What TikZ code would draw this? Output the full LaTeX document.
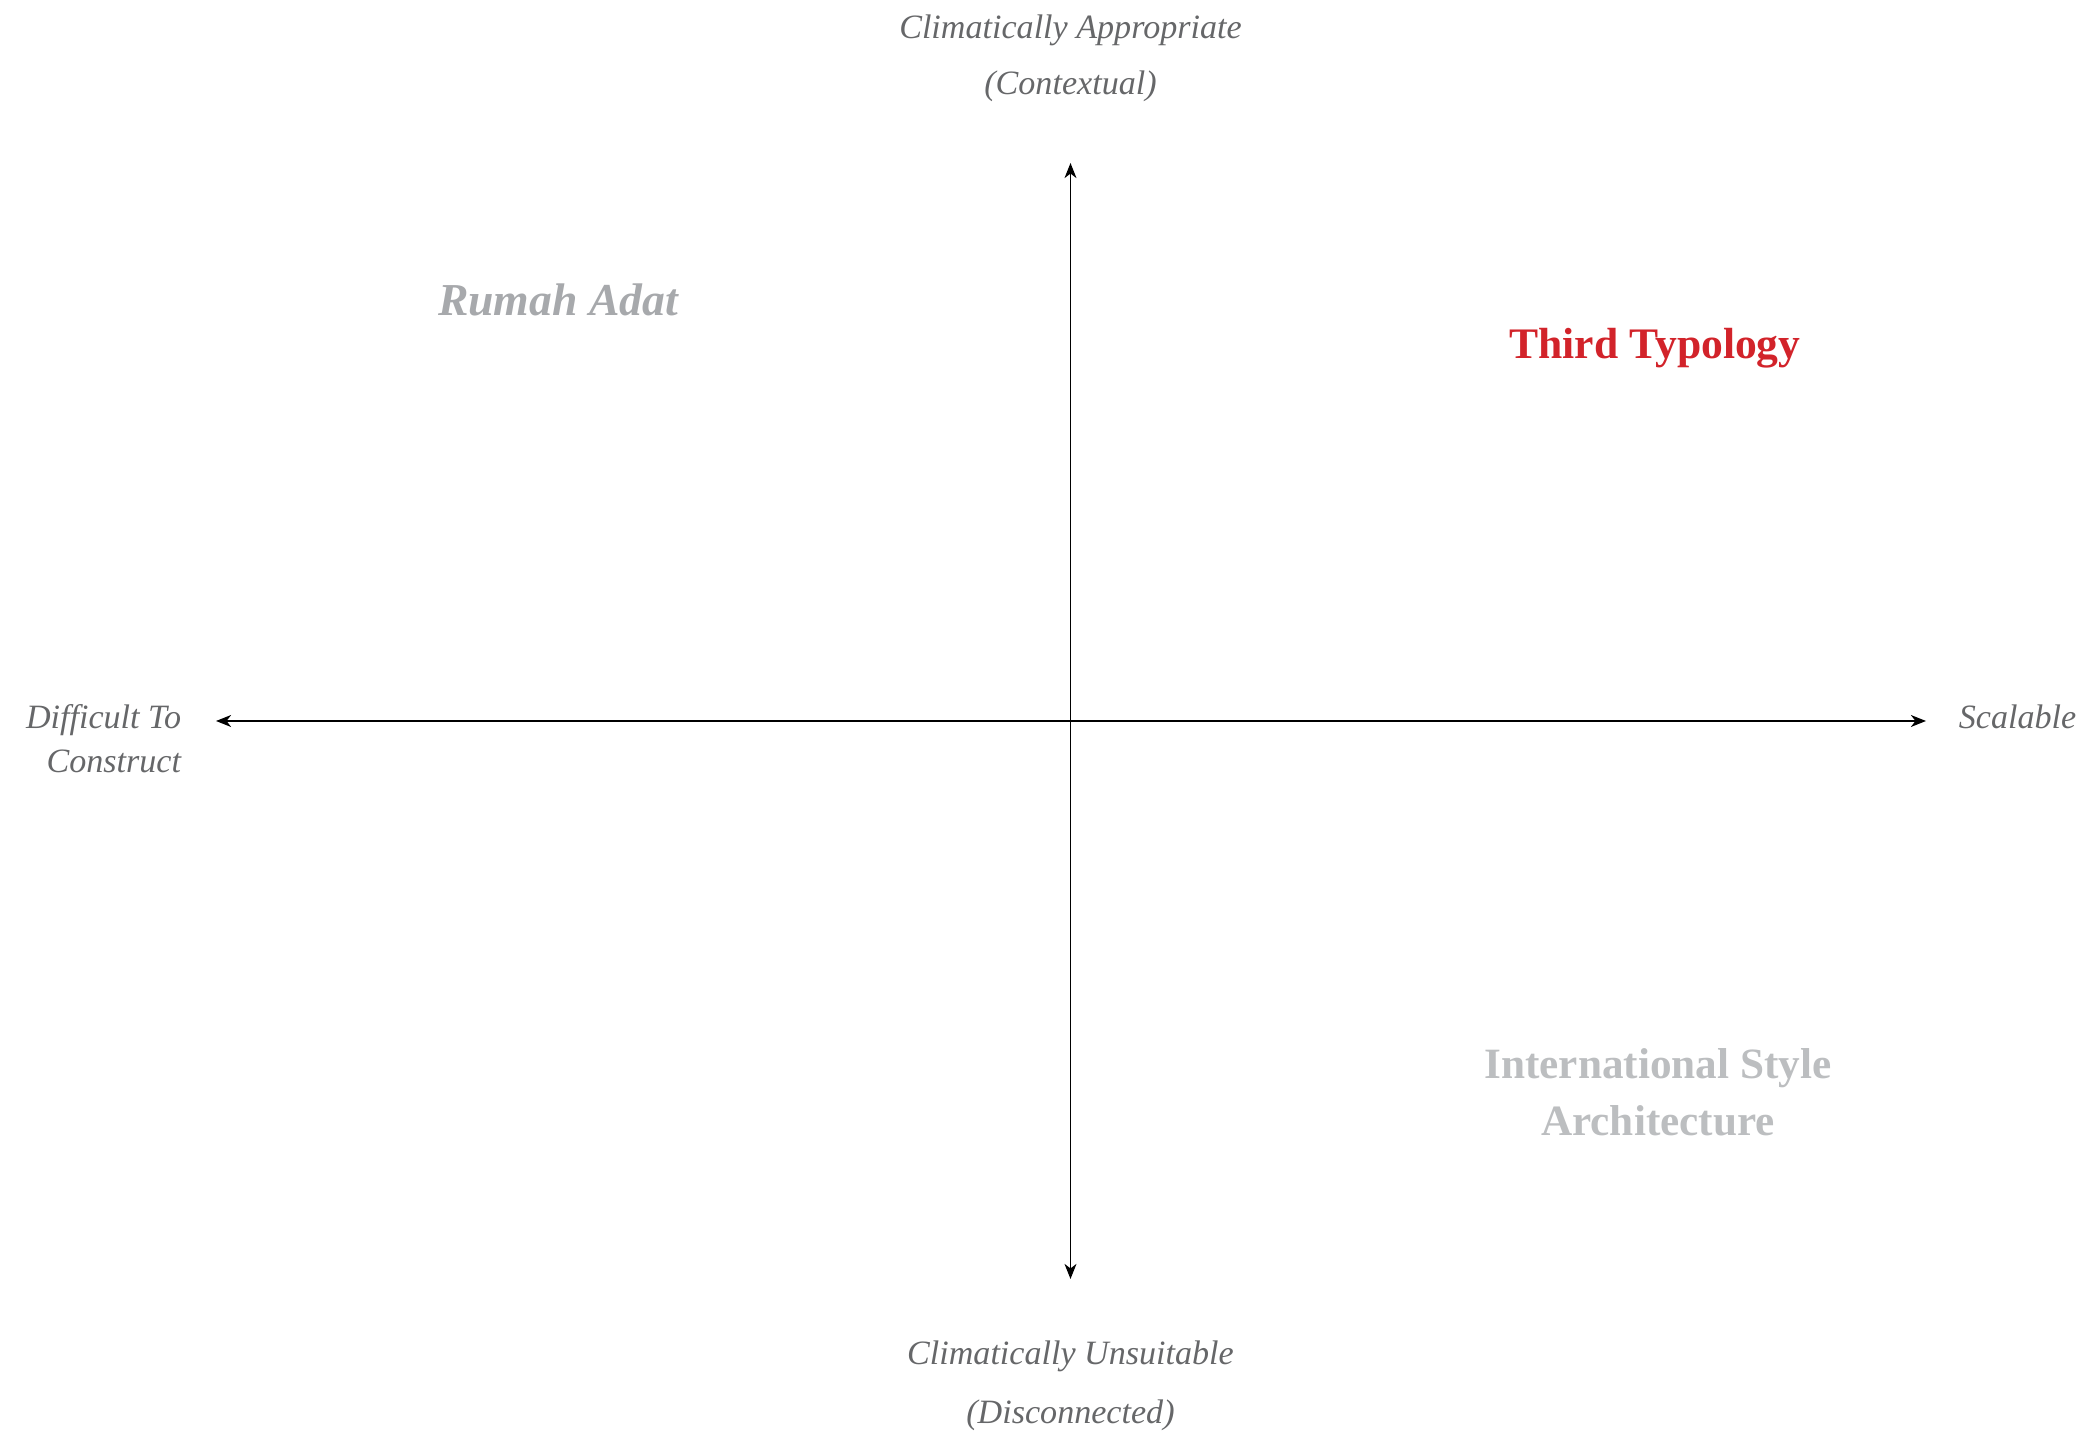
\documentclass[tikz,border=0pt]{standalone}
\usepackage{fontspec}
\setmainfont{Liberation Serif}
\usetikzlibrary{arrows.meta}
\definecolor{axislabel}{HTML}{666769}
\definecolor{adatgray}{HTML}{A7A9AC}
\definecolor{intlgray}{HTML}{BCBEC0}
\definecolor{thirdred}{HTML}{D2232A}
\tikzset{
    axistext/.style={text=axislabel, align=center, font=\fontsize{9.7}{16}\selectfont\itshape},
    axistip/.style={{Stealth[length=4.3pt,width=3.4pt,inset=1.3pt]}-{Stealth[length=4.3pt,width=3.4pt,inset=1.3pt]}},
}
\begin{document}
\begin{tikzpicture}
            \useasboundingbox (-10.705, -7.20) rectangle (10.225, 7.21);

            \coordinate (north) at ( 0    ,  5.58);
            \coordinate (south) at ( 0    , -5.58);
            \coordinate (west)  at (-8.545,  0);
            \coordinate (east)  at ( 8.555,  0);

            \draw[axistip] (south) -- (north);
            \draw[axistip] (west) -- (east);

            % axis ends
            \node[axistext] (appropriate) at (0, 6.63) {Climatically Appropriate\\(Contextual)};
            \node[axistext, font=\fontsize{9.7}{16.7}\selectfont\itshape] (unsuitable) at (0, -6.65) {Climatically Unsuitable\\(Disconnected)};
            \node[axistext, align=right, anchor=east, font=\fontsize{9.7}{12.5}\selectfont\itshape] (difficult) at (-8.77, -0.18) {Difficult To\\Construct};
            \node[axistext] (scalable) at (9.47, 0.04) {Scalable};

            % quadrants
            \node[text=adatgray, font=\fontsize{13}{16}\selectfont\bfseries\itshape] (adat) at (-5.125, 4.21) {Rumah Adat};
            \node[text=thirdred, font=\fontsize{12.4}{16}\selectfont\bfseries] (third) at (5.845, 3.73) {Third Typology};
            \node[text=intlgray, align=center, font=\fontsize{12.3}{16.2}\selectfont\bfseries] (international) at (5.875, -3.715) {International Style\\Architecture};
        \end{tikzpicture}
\end{document}
